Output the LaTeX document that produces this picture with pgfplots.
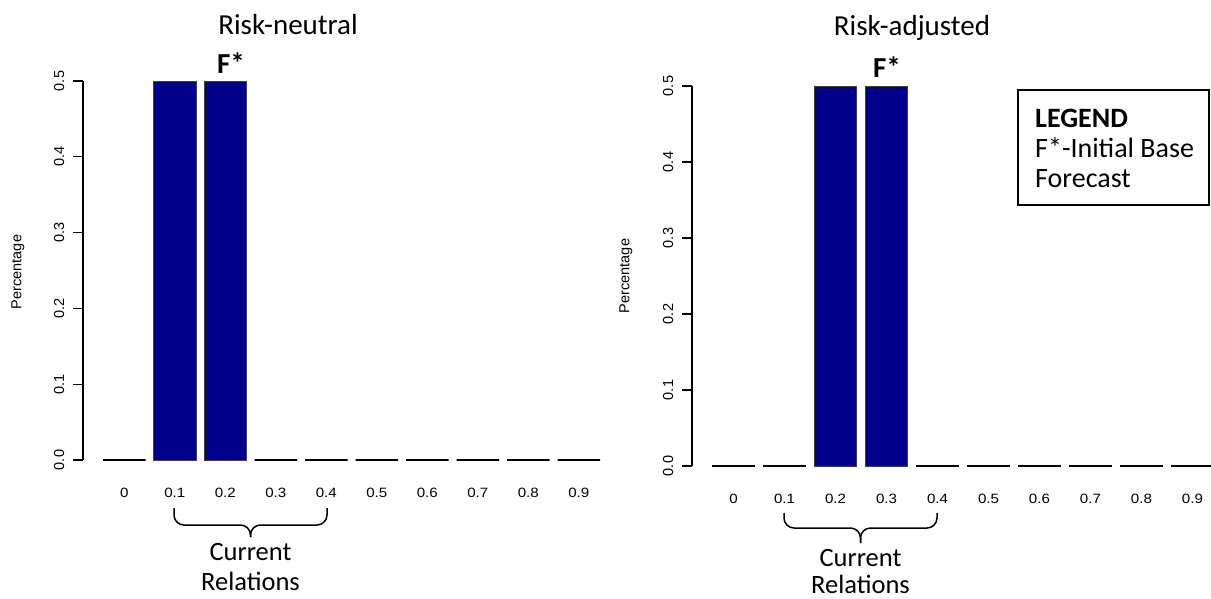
\documentclass[border=0pt]{standalone}
\usepackage{fontspec}
\usepackage{pgfplots}
\pgfplotsset{compat=1.18}
\setmainfont{Carlito}
\newfontfamily\arialf{Liberation Sans}
\newfontfamily\arialx[FakeStretch=1.12]{Liberation Sans}
\definecolor{barblue}{RGB}{0,0,139}

\pgfplotsset{rplot/.style={
  scale only axis, clip=false,
  ymin=0, ymax=0.5,
  axis y line=left, axis x line=bottom,
  x axis line style={draw=none},
  y axis line style={-, line width=1.2pt, black},
  xtick={0,1,2,3,4,5,6,7,8,9},
  xticklabels={0,0.1,0.2,0.3,0.4,0.5,0.6,0.7,0.8,0.9},
  xtick style={draw=none},
  ytick={0,0.1,0.2,0.3,0.4,0.5},
  /pgf/number format/assume math mode=true,
  yticklabel={\pgfmathprintnumber[fixed,fixed zerofill,precision=1]{\tick}},
  yticklabel style={xshift=-8.5pt, rotate=90, anchor=south, inner sep=0pt, font=\fontsize{14.5}{14.5}\arialf},
  tick align=outside, major tick length=10pt,
  ytick style={line width=1.2pt, black},
  xticklabel style={anchor=base, inner sep=0pt, yshift=-27pt, font=\fontsize{13.5}{13.5}\arialx},
  barfull/.style={ybar, bar shift=0pt, bar width=0.84, fill=barblue, draw=black!75, line width=1pt},
  barzero/.style={ybar, bar shift=0pt, bar width=0.84, draw=black, line width=1.8pt},
}}

\begin{document}
\begin{tikzpicture}[x=1pt,y=1pt]
\useasboundingbox (0,0) rectangle (1211,-598);

% ---------- left panel ----------
\begin{axis}[rplot, at={(83pt,-460pt)}, anchor=south west,
  width=537pt, height=379pt, xmin=-0.818, xmax=9.816]
\addplot[barzero] coordinates {(0,0) (3,0) (4,0) (5,0) (6,0) (7,0) (8,0) (9,0)};
\addplot[barfull] coordinates {(1,0.5) (2,0.5)};
\end{axis}

% ---------- right panel ----------
\begin{axis}[rplot, at={(692pt,-466pt)}, anchor=south west,
  width=542pt, height=380pt, xmin=-0.814, xmax=9.814]
\addplot[barzero] coordinates {(0,0) (1,0) (4,0) (5,0) (6,0) (7,0) (8,0) (9,0)};
\addplot[barfull] coordinates {(2,0.5) (3,0.5)};
\end{axis}

% ---------- annotations left ----------
\node[anchor=base, inner sep=0pt, font=\fontsize{29}{31}\selectfont] at (288,-34.5) {Risk-neutral};
\node[anchor=base, inner sep=0pt, font=\fontsize{29}{31}\selectfont\bfseries] at (231,-73) {F*};
\node[rotate=90, inner sep=0pt, font=\fontsize{14.5}{14.5}\arialf] at (18,-272) {Percentage};
\draw[line width=1.5pt] (174,-508) -- (174,-515) arc[start angle=180,end angle=270,radius=10]
  -- (240.5,-525) arc[start angle=90,end angle=0,radius=10] -- (250.5,-537);
\draw[line width=1.5pt] (327,-508) -- (327,-515) arc[start angle=0,end angle=-90,radius=10]
  -- (260.5,-525) arc[start angle=90,end angle=180,radius=10] -- (250.5,-537);
\node[anchor=base, inner sep=0pt, font=\fontsize{26.5}{28}\selectfont] at (250.5,-560) {Current};
\node[anchor=base, inner sep=0pt, font=\fontsize{26.5}{28}\selectfont] at (250.5,-590) {Relations};

% ---------- annotations right ----------
\node[anchor=base, inner sep=0pt, font=\fontsize{29}{31}\selectfont] at (912,-35) {Risk-adjusted};
\node[anchor=base, inner sep=0pt, font=\fontsize{29}{31}\selectfont\bfseries] at (887,-77) {F*};
\node[rotate=90, inner sep=0pt, font=\fontsize{14.5}{14.5}\arialf] at (626,-276) {Percentage};
\draw[line width=1.5pt] (784,-513) -- (784,-518) arc[start angle=180,end angle=270,radius=10]
  -- (850.5,-528) arc[start angle=90,end angle=0,radius=10] -- (860.5,-543);
\draw[line width=1.5pt] (937,-513) -- (937,-518) arc[start angle=0,end angle=-90,radius=10]
  -- (870.5,-528) arc[start angle=90,end angle=180,radius=10] -- (860.5,-543);
\node[anchor=base, inner sep=0pt, font=\fontsize{26.5}{28}\selectfont] at (860.5,-566) {Current};
\node[anchor=base, inner sep=0pt, font=\fontsize{26.5}{28}\selectfont] at (860.5,-593) {Relations};

% ---------- legend box ----------
\draw[line width=1.5pt] (1018,-90) rectangle (1209,-205);
\node[anchor=base west, inner sep=0pt, font=\fontsize{28}{30}\selectfont\bfseries] at (1035,-127) {LEGEND};
\node[anchor=base west, inner sep=0pt, font=\fontsize{28}{30}\selectfont] at (1035,-157) {F*-Initial Base};
\node[anchor=base west, inner sep=0pt, font=\fontsize{28}{30}\selectfont] at (1035,-187) {Forecast};
\end{tikzpicture}
\end{document}
